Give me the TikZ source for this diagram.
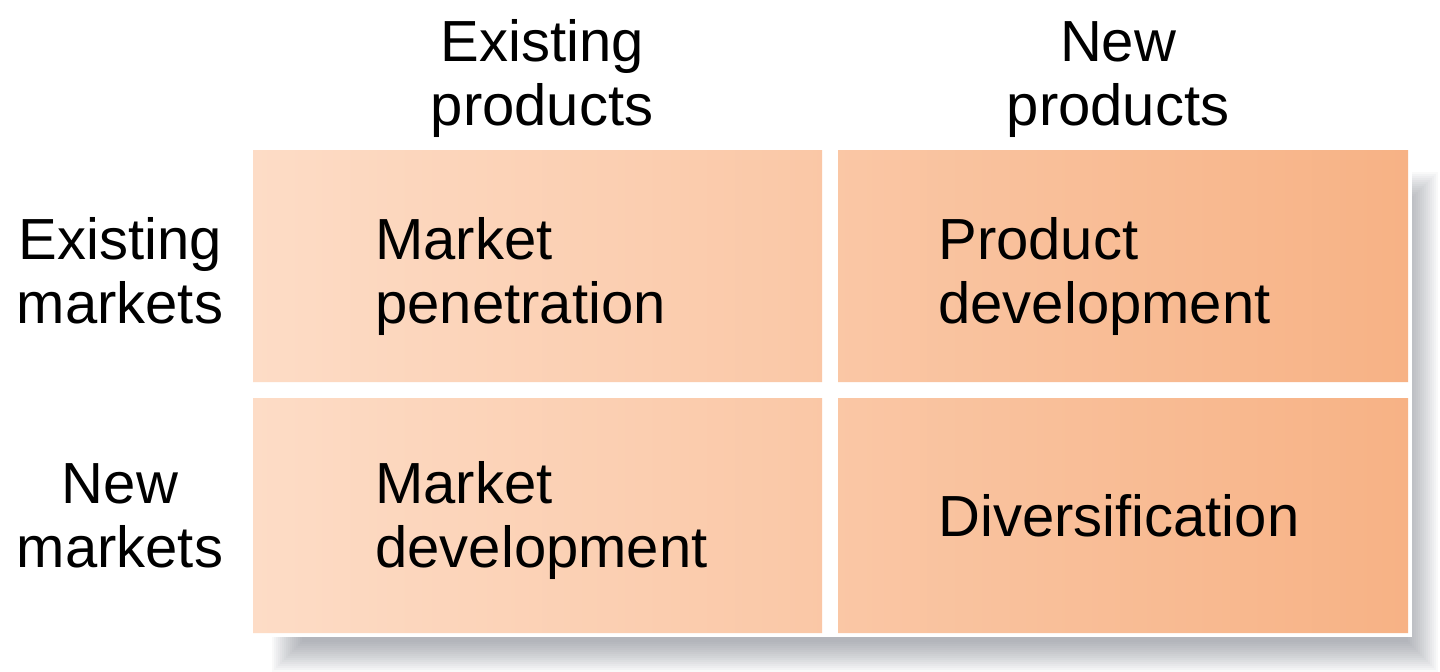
\documentclass[tikz,border=0pt]{standalone}
\usepackage{fontspec}
\setmainfont{Liberation Sans}
\definecolor{cellL}{RGB}{253,220,198}
\definecolor{cellR}{RGB}{247,178,133}
\definecolor{shadowc}{RGB}{95,100,112}
\tikzset{
  lbl/.style={font=\fontsize{29}{32}\selectfont, inner sep=0pt, text=black},
  hdr/.style={lbl, align=center, anchor=base},
  celltxt/.style={lbl, align=left, anchor=base west}
}
\begin{document}
\begin{tikzpicture}[x=0.5pt,y=-0.5pt]
\useasboundingbox (0,0) rectangle (1440,671);
% soft shadow
\foreach \i in {0,...,15}{
  \fill[shadowc, opacity=0.04] (272+\i*2,172+\i*2) rectangle (1438-\i*2,672-\i*2);
}
% white frame
\fill[white] (249,146) rectangle (1412,637);
% cells with common horizontal gradient
\shade[left color=cellL, right color=cellR]
  (253,150) rectangle (822,382)
  (838,150) rectangle (1408,382)
  (253,398) rectangle (822,633)
  (838,398) rectangle (1408,633);
% headers
\node[hdr] (h1) at (542,125) {Existing\\products};
\node[hdr] (h2) at (1118,125) {New\\products};
\node[hdr] (r1) at (120,323) {Existing\\markets};
\node[hdr] (r2) at (120,567) {New\\markets};
% cell texts
\node[celltxt] (c11) at (375,323) {Market\\penetration};
\node[celltxt] (c12) at (938,323) {Product\\development};
\node[celltxt] (c21) at (375,567) {Market\\development};
\node[celltxt] (c22) at (938,536) {Diversification};
\end{tikzpicture}
\end{document}
